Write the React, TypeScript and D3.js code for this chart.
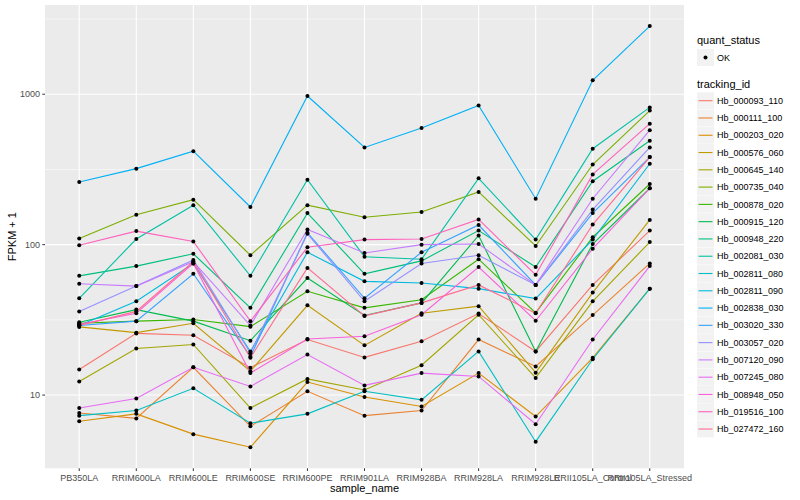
import * as d3 from "d3";

const SAMPLES = [
  "PB350LA",
  "RRIM600LA",
  "RRIM600LE",
  "RRIM600SE",
  "RRIM600PE",
  "RRIM901LA",
  "RRIM928BA",
  "RRIM928LA",
  "RRIM928LE",
  "RRII105LA_Control",
  "RRII105LA_Stressed",
];

const TRACKING_IDS = [
  "Hb_000093_110",
  "Hb_000111_100",
  "Hb_000203_020",
  "Hb_000576_060",
  "Hb_000645_140",
  "Hb_000735_040",
  "Hb_000878_020",
  "Hb_000915_120",
  "Hb_000948_220",
  "Hb_002081_030",
  "Hb_002811_080",
  "Hb_002811_090",
  "Hb_002838_030",
  "Hb_003020_330",
  "Hb_003057_020",
  "Hb_007120_090",
  "Hb_007245_080",
  "Hb_008948_050",
  "Hb_019516_100",
  "Hb_027472_160",
];

// FPKM + 1, one row per tracking_id, one value per sample
const FPKM = [
  [14.8, 25.7, 25, 15.2, 23.4, 17.8, 22.8, 34.8, 19.5, 54, 124],
  [7.6, 7.0, 15.3, 6.2, 10.6, 7.3, 7.9, 23.4, 15.5, 34, 75],
  [6.7, 7.5, 5.5, 4.5, 12.2, 9.7, 8.4, 14, 7.2, 17.7, 51],
  [28.4, 26, 30, 14.4, 39.5, 21.4, 35, 39, 14.1, 48, 146],
  [12.3, 20.4, 21.7, 8.2, 12.8, 10.8, 15.8, 34.2, 13.0, 42, 104],
  [110, 158, 199, 85, 183, 152, 165, 224, 98, 341, 778],
  [30, 31, 31.8, 28.5, 49, 38, 43, 80, 35.2, 112, 253],
  [30.5, 37, 31, 23, 60, 33.8, 41, 115, 19.5, 101, 237],
  [62, 72, 87, 38, 162, 64, 78, 124, 71, 264, 490],
  [44, 109, 183, 62, 270, 83, 80, 276, 108, 434, 817],
  [7.3, 7.9, 11.1, 6.5, 7.5, 10.6, 9.3, 19.5, 4.9, 17.3, 51],
  [29, 42, 75, 19.5, 89, 57, 55.6, 51, 43.8, 108, 345],
  [261, 320, 418, 178, 973, 443, 596, 842, 202, 1236, 2838],
  [29, 31, 64, 18, 120, 44, 89, 135, 54, 162, 382],
  [36, 53, 79, 19, 118, 42, 75, 85, 54, 171, 443],
  [55, 53, 77, 29, 126, 88, 100, 101, 54, 202, 577],
  [8.2, 9.5, 15.3, 11.4, 18.6, 11.6, 14, 13.3, 6.4, 23.4, 72],
  [29.5, 35, 75, 14, 23.6, 24.6, 34.2, 71, 31.2, 94, 237],
  [99, 123, 105, 31, 96, 108, 109, 147, 63, 293, 637],
  [29, 36, 77, 17.7, 70, 33.6, 41, 54, 35, 136, 382],
];

const Y_TICKS = [10, 100, 1000];
const Y_MINOR = [10 ** 0.5, 10 ** 1.5, 10 ** 2.5, 10 ** 3.5];

const COLORS = [
  "#F8766D", "#EA8331", "#D89000", "#C09B00", "#A3A500",
  "#7CAE00", "#39B600", "#00BB4E", "#00BF7D", "#00C1A3",
  "#00BFC4", "#00BAE0", "#00B0F6", "#35A2FF", "#9590FF",
  "#C77CFF", "#E76BF3", "#FA62DB", "#FF62BC", "#FF6C91",
];

const W = 800;
const H = 500;
const panel = { left: 45, right: 684, top: 5, bottom: 468.3 };
const FONT = "'Liberation Sans', Arial, Helvetica, sans-serif";

export default function App() {
  const x = d3
    .scalePoint<string>()
    .domain(SAMPLES)
    .range([panel.left, panel.right])
    .padding(0.6);

  // ggplot-style 5% expansion on log scale
  const logs = FPKM.flat().map((v) => Math.log10(v));
  const [lo, hi] = d3.extent(logs) as [number, number];
  const pad = (hi - lo) * 0.05;
  const y = d3
    .scaleLog()
    .domain([10 ** (lo - pad), 10 ** (hi + pad)])
    .range([panel.bottom, panel.top]);

  const line = d3
    .line<number>()
    .x((_, i) => x(SAMPLES[i])!)
    .y((d) => y(d));

  const legendX = 697;
  const itemY0 = 100.7;
  const itemStep = 17.28;

  return (
    <svg
      width={W}
      height={H}
      style={{ position: "absolute", left: 0, top: 0, background: "#fff" }}
      fontFamily={FONT}
    >
      <rect
        x={panel.left}
        y={panel.top}
        width={panel.right - panel.left}
        height={panel.bottom - panel.top}
        fill="#EBEBEB"
      />
      {Y_MINOR.filter((v) => y(v) > panel.top && y(v) < panel.bottom).map((v) => (
        <line
          key={"mn" + v}
          x1={panel.left}
          x2={panel.right}
          y1={y(v)}
          y2={y(v)}
          stroke="#fff"
          strokeWidth={0.55}
        />
      ))}
      {Y_TICKS.map((v) => (
        <line
          key={"mj" + v}
          x1={panel.left}
          x2={panel.right}
          y1={y(v)}
          y2={y(v)}
          stroke="#fff"
          strokeWidth={1.1}
        />
      ))}
      {SAMPLES.map((s) => (
        <line
          key={"vx" + s}
          x1={x(s)}
          x2={x(s)}
          y1={panel.top}
          y2={panel.bottom}
          stroke="#fff"
          strokeWidth={1.1}
        />
      ))}

      {FPKM.map((row, i) => (
        <path
          key={TRACKING_IDS[i]}
          d={line(row)!}
          fill="none"
          stroke={COLORS[i]}
          strokeWidth={1.1}
        />
      ))}
      {FPKM.map((row, i) =>
        row.map((v, j) => (
          <circle
            key={TRACKING_IDS[i] + j}
            cx={x(SAMPLES[j])}
            cy={y(v)}
            r={2}
            fill="#000"
          />
        ))
      )}

      {/* y axis */}
      {Y_TICKS.map((v) => (
        <g key={"yt" + v}>
          <line
            x1={panel.left - 2.7}
            x2={panel.left}
            y1={y(v)}
            y2={y(v)}
            stroke="#333"
            strokeWidth={1}
          />
          <text
            x={panel.left - 5}
            y={y(v)}
            dy="0.35em"
            textAnchor="end"
            fontSize={9}
            fill="#4D4D4D"
          >
            {v}
          </text>
        </g>
      ))}
      <text
        transform={`translate(16,${(panel.top + panel.bottom) / 2}) rotate(-90)`}
        textAnchor="middle"
        fontSize={11}
        fill="#000"
      >
        FPKM + 1
      </text>

      {/* x axis */}
      {SAMPLES.map((s) => (
        <g key={"xt" + s}>
          <line
            x1={x(s)}
            x2={x(s)}
            y1={panel.bottom}
            y2={panel.bottom + 2.7}
            stroke="#333"
            strokeWidth={1}
          />
          <text
            x={x(s)}
            y={panel.bottom + 12.5}
            textAnchor="middle"
            fontSize={9}
            fill="#4D4D4D"
          >
            {s}
          </text>
        </g>
      ))}
      <text
        x={(panel.left + panel.right) / 2}
        y={492}
        textAnchor="middle"
        fontSize={11}
        fill="#000"
      >
        sample_name
      </text>

      {/* legend: quant_status */}
      <text x={legendX} y={44} fontSize={11} fill="#000">
        quant_status
      </text>
      <rect x={legendX} y={49} width={17} height={17} fill="#F2F2F2" />
      <circle cx={legendX + 8.5} cy={57.5} r={2} fill="#000" />
      <text x={legendX + 20} y={57.5} dy="0.35em" fontSize={9} fill="#000">
        OK
      </text>

      {/* legend: tracking_id */}
      <text x={legendX} y={88} fontSize={11} fill="#000">
        tracking_id
      </text>
      {TRACKING_IDS.map((id, i) => {
        const cy = itemY0 + i * itemStep;
        return (
          <g key={"lg" + id}>
            <rect
              x={legendX}
              y={cy - 8.4}
              width={17}
              height={16.8}
              fill="#F2F2F2"
            />
            <line
              x1={legendX + 1.5}
              x2={legendX + 15.5}
              y1={cy}
              y2={cy}
              stroke={COLORS[i]}
              strokeWidth={1.1}
            />
            <text x={legendX + 20} y={cy} dy="0.35em" fontSize={9} fill="#000">
              {id}
            </text>
          </g>
        );
      })}
    </svg>
  );
}
